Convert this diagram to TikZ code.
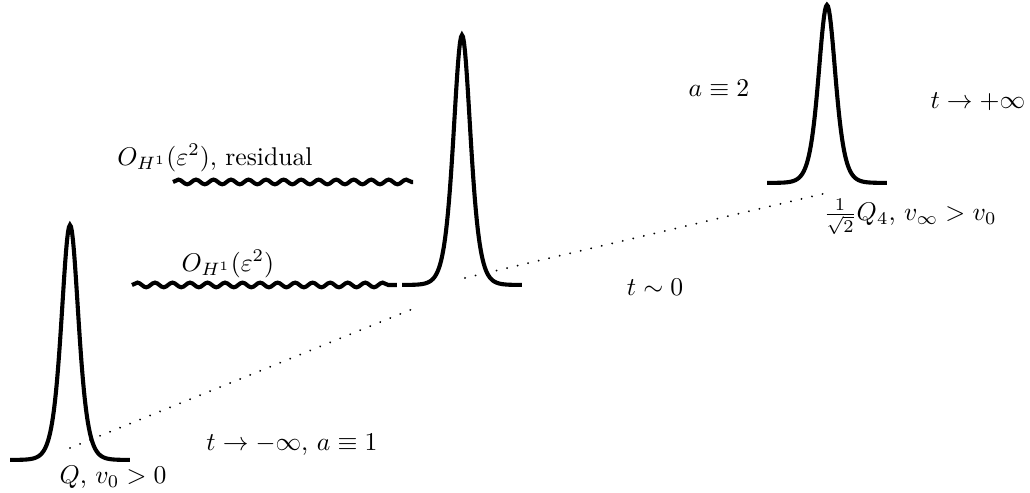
\documentclass[tikz,border=0pt]{standalone}
\usepackage{amsmath,amssymb}
\usetikzlibrary{decorations.pathmorphing}

\begin{document}
\begin{tikzpicture}[pulse/.style={ultra thick,line join=miter},
  wave/.style={ultra thick,decorate,decoration={snake,segment length=0.24cm,amplitude=0.032cm}},
  trail/.style={line width=0.8pt,line cap=round,dash pattern=on 0.01pt off 4.2pt}]
\useasboundingbox (0,0) rectangle (14.11,6.753);
% solitons: centre / base level / height
\foreach \px/\py/\ph in {0.959/0.452/3.219,6.329/2.849/3.425,11.329/4.247/2.438}{
  \draw[pulse] plot[domain=-0.82:0.82,samples=121] ({\px+\x},{\py+\ph/cosh(6.4*\x)/cosh(6.4*\x)});}
% radiation
\coordinate (w1a) at (2.370,4.260); \coordinate (w1b) at (5.658,4.260);
\coordinate (w2a) at (1.808,2.849); \coordinate (w2b) at (5.438,2.849);
\draw[wave] (w1a) -- (w1b);
\draw[wave] (w2a) -- (w2b);
% trajectory
\coordinate (c1) at (0.959,0.616); \coordinate (c2) at (5.685,2.534);
\coordinate (c3) at (6.370,2.945); \coordinate (c4) at (11.329,4.110);
\draw[trail] (c1) -- (c2);
\draw[trail] (c3) -- (c4);
% labels
\node (lQ) at (1.548,0.219) {$Q$, $v_0>0$};
\node (lminus) at (4.000,0.658) {$t\to-\infty$, $a\equiv1$};
\node (lres) at (2.945,4.589) {$O_{H^1}(\varepsilon^2)$, residual};
\node (lerr) at (3.123,3.137) {$O_{H^1}(\varepsilon^2)$};
\node (lzero) at (8.973,2.822) {$t\sim0$};
\node (ltwo) at (9.849,5.548) {$a\equiv2$};
\node (lplus) at (13.397,5.356) {$t\to+\infty$};
\node (lQ4) at (12.466,3.781) {$\frac{1}{\sqrt{2}}Q_4$, $v_\infty>v_0$};
\end{tikzpicture}
\end{document}
